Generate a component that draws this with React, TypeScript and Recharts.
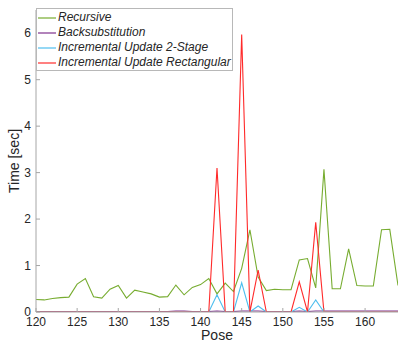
import { Label, Legend, Line, LineChart, XAxis, YAxis } from 'recharts';

const POSES = [
  120, 121, 122, 123, 124, 125, 126, 127, 128, 129, 130, 131, 132, 133, 134,
  135, 136, 137, 138, 139, 140, 141, 142, 143, 144, 145, 146, 147, 148, 149,
  150, 151, 152, 153, 154, 155, 156, 157, 158, 159, 160, 161, 162, 163, 164,
];

const RECURSIVE = [
  0.27, 0.26, 0.29, 0.31, 0.32, 0.6, 0.72, 0.33, 0.3, 0.49, 0.57, 0.3, 0.47, 0.43, 0.39,
  0.32, 0.33, 0.58, 0.37, 0.53, 0.59, 0.72, 0.39, 0.62, 0.44, 0.94, 1.77, 0.75, 0.46, 0.49,
  0.48, 0.48, 1.12, 1.15, 0.52, 3.07, 0.5, 0.5, 1.36, 0.57, 0.56, 0.56, 1.77, 1.78, 0.57,
];

const BACKSUB = [
  0.01, 0.01, 0.01, 0.01, 0.01, 0.01, 0.01, 0.01, 0.01, 0.01, 0.01, 0.01, 0.01, 0.01, 0.01,
  0.01, 0.01, 0.02, 0.02, 0.01, 0.01, 0.01, 0.02, 0.01, 0.01, 0.02, 0.02, 0.02, 0.01, 0.01,
  0.01, 0.01, 0.02, 0.01, 0.02, 0.02, 0.02, 0.02, 0.02, 0.02, 0.02, 0.02, 0.02, 0.02, 0.02,
];

const TWO_STAGE = [
  0, 0, 0, 0, 0, 0, 0, 0, 0, 0, 0, 0, 0, 0, 0,
  0, 0, 0, 0, 0, 0, 0, 0.37, 0, 0, 0.63, 0, 0.13, 0, 0,
  0, 0, 0.1, 0, 0.26, 0, 0, 0, 0, 0, 0, 0, 0, 0, 0,
];

const RECTANGULAR = [
  0, 0, 0, 0, 0, 0, 0, 0, 0, 0, 0, 0, 0, 0, 0,
  0, 0, 0, 0, 0, 0, 0, 3.1, 0, 0, 5.97, 0, 0.9, 0, 0,
  0, 0, 0.65, 0, 1.93, 0, 0, 0, 0, 0, 0, 0, 0, 0, 0,
];

const X_TICKS = [120, 125, 130, 135, 140, 145, 150, 155, 160];
const Y_TICKS = [0, 1, 2, 3, 4, 5, 6];

const SERIES = [
  { key: 'recursive', label: 'Recursive', color: '#77ac30' },
  { key: 'backsub', label: 'Backsubstitution', color: '#7e2f8e' },
  { key: 'twoStage', label: 'Incremental Update 2-Stage', color: '#4dbeee' },
  { key: 'rectangular', label: 'Incremental Update Rectangular', color: '#ff2a2a' },
];

const data = POSES.map((pose, i) => ({
  pose,
  recursive: RECURSIVE[i],
  backsub: BACKSUB[i],
  twoStage: TWO_STAGE[i],
  rectangular: RECTANGULAR[i],
}));

const FONT = '"Liberation Sans", Arial, Helvetica, sans-serif';
const AXIS_COLOR = '#a6a6a6';
const TEXT_COLOR = '#262626';

function LegendBox() {
  return (
    <div
      style={{
        border: '1px solid #b8b8b8',
        background: '#fff',
        padding: '1px 1px 0 1px',
        fontFamily: FONT,
      }}
    >
      {SERIES.map((s) => (
        <div key={s.key} style={{ display: 'flex', alignItems: 'center', height: 15 }}>
          <svg width={18} height={4} style={{ display: 'block' }}>
            <line x1={0} y1={2} x2={18} y2={2} stroke={s.color} strokeWidth={1.2} />
          </svg>
          <span style={{ fontStyle: 'italic', fontSize: 12, marginLeft: 2, color: TEXT_COLOR, lineHeight: '15px' }}>
            {s.label}
          </span>
        </div>
      ))}
    </div>
  );
}

export default function App() {
  return (
    <div style={{ position: 'absolute', left: 0, top: 0, width: 399, height: 342, background: '#fff', fontFamily: FONT }}>
      <LineChart width={399} height={342} data={data} margin={{ top: 10, right: 1, bottom: 0, left: 0 }}>
        <XAxis
          dataKey="pose"
          type="number"
          domain={[120, 164]}
          ticks={X_TICKS}
          height={30}
          stroke={AXIS_COLOR}
          tickSize={-4}
          tickMargin={9}
          tick={{ fill: TEXT_COLOR, fontSize: 12, fontFamily: FONT }}
          allowDataOverflow
        >
          <Label
            content={({ viewBox }: any) => (
              <text
                x={viewBox.x + viewBox.width / 2}
                y={340}
                textAnchor="middle"
                fontSize={14}
                fill={TEXT_COLOR}
                fontFamily={FONT}
              >
                Pose
              </text>
            )}
          />
        </XAxis>
        <YAxis
          type="number"
          domain={[0, 6.5]}
          ticks={Y_TICKS}
          width={36}
          stroke={AXIS_COLOR}
          tickSize={-4}
          tickMargin={9}
          tick={{ fill: TEXT_COLOR, fontSize: 12, fontFamily: FONT }}
          allowDataOverflow
        >
          <Label
            content={({ viewBox }: any) => (
              <text
                transform={`translate(14, ${viewBox.y + viewBox.height / 2}) rotate(-90)`}
                textAnchor="middle"
                dominantBaseline="central"
                fontSize={14}
                fill={TEXT_COLOR}
                fontFamily={FONT}
              >
                Time [sec]
              </text>
            )}
          />
        </YAxis>
        <Legend
          layout="vertical"
          align="center"
          verticalAlign="middle"
          content={() => <LegendBox />}
          wrapperStyle={{ left: 36, top: 8, width: 'auto', height: 'auto' }}
        />
        {SERIES.map((s) => (
          <Line
            key={s.key}
            dataKey={s.key}
            name={s.label}
            type="linear"
            stroke={s.color}
            strokeWidth={1.1}
            dot={false}
            activeDot={false}
            isAnimationActive={false}
          />
        ))}
      </LineChart>
    </div>
  );
}
